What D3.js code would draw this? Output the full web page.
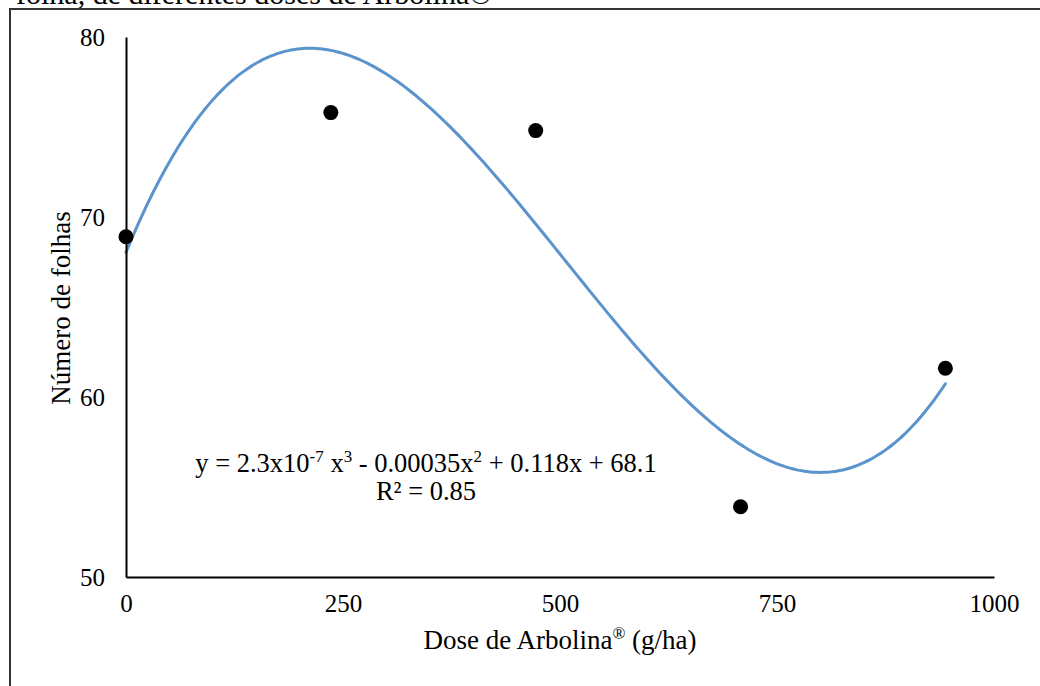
<!DOCTYPE html>
<html>
<head>
<meta charset="utf-8">
<script src="https://cdn.jsdelivr.net/npm/d3@7"></script>
<style>
  body { margin: 0; background: #fff; }
  svg { display: block; font-family: "Liberation Serif", "Times New Roman", serif; }
</style>
</head>
<body>
<div class="canvas"></div>
<script>
// data
const doses = [0, 236, 472, 708, 944];
const folhas = [68.9, 75.8, 74.8, 53.9, 61.6];
const xTicks = [0, 250, 500, 750, 1000];
const yTicks = [50, 60, 70, 80];

const width = 1040, height = 686;
const margin = { top: 37, right: 45, bottom: 109, left: 126 };

const svg = d3.select('.canvas')
    .append('svg')
    .attr('width', width)
    .attr('height', height);

// cut-off caption line at the very top (only its lower edge shows, as in the reference)
svg.append('text')
    .attr('x', 16)
    .attr('y', 4)
    .attr('font-size', 30)
    .text('folha, de diferentes doses de Arbolina®');

// outer frame (runs off right and bottom)
svg.append('path')
    .attr('d', `M10,${height + 5} V9 H${width + 5}`)
    .attr('fill', 'none')
    .attr('stroke', '#333')
    .attr('stroke-width', 2);

const x = d3.scaleLinear().domain([0, 1000]).range([margin.left, width - margin.right - 1]);
const y = d3.scaleLinear().domain([50, 80]).range([height - margin.bottom, margin.top]);

// cubic least-squares trendline, fitted from the points
const fitCubic = (xs, ys) => {
    const n = 4;
    const A = Array.from({ length: n }, () => new Array(n + 1).fill(0));
    xs.forEach((xv, k) => {
        for (let i = 0; i < n; i++) {
            for (let j = 0; j < n; j++) A[i][j] += Math.pow(xv, i + j);
            A[i][n] += ys[k] * Math.pow(xv, i);
        }
    });
    for (let c = 0; c < n; c++) {
        let p = c;
        for (let r = c + 1; r < n; r++) if (Math.abs(A[r][c]) > Math.abs(A[p][c])) p = r;
        [A[c], A[p]] = [A[p], A[c]];
        for (let r = 0; r < n; r++) {
            if (r === c) continue;
            const f = A[r][c] / A[c][c];
            for (let k = c; k <= n; k++) A[r][k] -= f * A[c][k];
        }
    }
    return A.map((row, i) => row[n] / row[i]);
};
const coef = fitCubic(doses, folhas);
const poly = v => coef[0] + coef[1] * v + coef[2] * v * v + coef[3] * v * v * v;

const curve = d3.range(0, d3.max(doses) + 1, 4).map(v => [v, poly(v)]);

svg.append('path')
    .datum(curve)
    .attr('fill', 'none')
    .attr('stroke', '#5b93cc')
    .attr('stroke-width', 3)
    .attr('stroke-linecap', 'round')
    .attr('d', d3.line().x(d => x(d[0])).y(d => y(d[1])).curve(d3.curveBasis));

// axes
const xAxis = d3.axisBottom(x).tickValues(xTicks).tickSize(0).tickPadding(17).tickFormat(d3.format('d'));
const yAxis = d3.axisLeft(y).tickValues(yTicks).tickSize(0).tickPadding(12);

const xg = svg.append('g')
    .attr('transform', `translate(0, ${height - margin.bottom})`)
    .call(xAxis);
const yg = svg.append('g')
    .attr('transform', `translate(${margin.left}, 0)`)
    .call(yAxis);

[xg, yg].forEach(g => {
    g.select('.domain').attr('stroke', '#000').attr('stroke-width', 2);
    g.selectAll('text')
        .attr('font-family', '"Liberation Serif", serif')
        .attr('font-size', 25)
        .attr('fill', '#000');
});
yg.selectAll('text').attr('dx', '-9');

// points
svg.selectAll('circle')
    .data(doses)
    .enter()
    .append('circle')
        .attr('cx', (d, i) => x(d))
        .attr('cy', (d, i) => y(folhas[i]))
        .attr('r', 7.5)
        .attr('fill', '#000');

// axis titles
svg.append('text')
    .attr('x', 560)
    .attr('y', 649)
    .attr('text-anchor', 'middle')
    .attr('font-size', 27)
    .html('Dose de Arbolina<tspan font-size="17" dy="-10">®</tspan><tspan dy="10"> (g/ha)</tspan>');

svg.append('text')
    .attr('transform', 'translate(70, 308) rotate(-90)')
    .attr('text-anchor', 'middle')
    .attr('font-size', 27)
    .text('Número de folhas');

// equation label
svg.append('text')
    .attr('x', 426)
    .attr('y', 472)
    .attr('text-anchor', 'middle')
    .attr('font-size', 26.5)
    .html('y = 2.3x10<tspan font-size="17" dy="-10">-7</tspan><tspan dy="10"> x</tspan><tspan font-size="17" dy="-10">3</tspan><tspan dy="10"> - 0.00035x</tspan><tspan font-size="17" dy="-10">2</tspan><tspan dy="10"> + 0.118x + 68.1</tspan>');

svg.append('text')
    .attr('x', 426)
    .attr('y', 500)
    .attr('text-anchor', 'middle')
    .attr('font-size', 26.5)
    .text('R² = 0.85');
</script>
</body>
</html>
